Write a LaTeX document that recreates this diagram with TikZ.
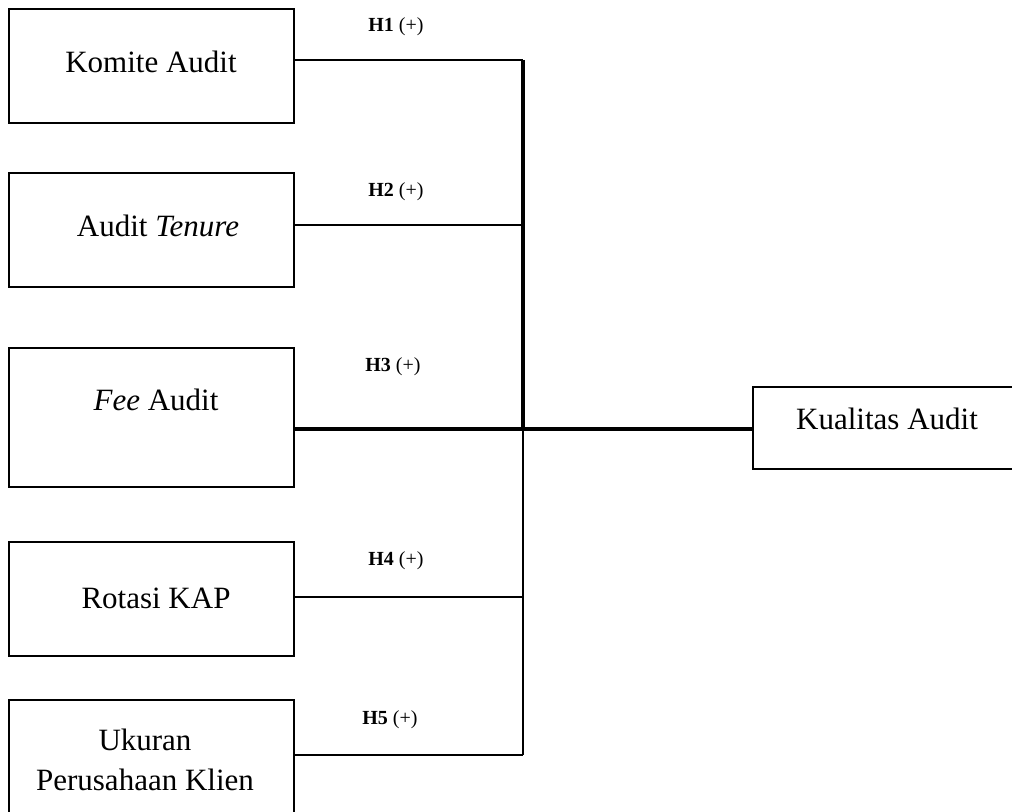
\documentclass[tikz,border=0pt]{standalone}
\usepackage{fontspec}
\setmainfont{Liberation Serif}
\usetikzlibrary{positioning}
\tikzset{
  varbox/.style={draw, line width=1.5pt, minimum width=213.75pt, minimum height=85.5pt, inner sep=0pt},
  vartext/.style={font=\fontsize{23.25}{30}\selectfont, align=center, inner sep=0pt},
  hyplabel/.style={font=\fontsize{15}{18}\selectfont, inner sep=0pt},
  thinline/.style={line width=1.5pt},
  thickline/.style={line width=3pt}
}
\begin{document}
\begin{tikzpicture}[x=0.75pt,y=-0.75pt]
  \useasboundingbox (0,0) rectangle (1012,812);
  \clip (0,0) rectangle (1012,812);
  % independent variables
  \node [varbox] (komite) at (151.5,66) {};
  \node [varbox] (tenure) at (151.5,230) {};
  \node [varbox, minimum height=104.25pt] (fee) at (151.5,417.5) {};
  \node [varbox] (rotasi) at (151.5,599) {};
  \node [varbox] (ukuran) at (151.5,757) {};
  \node [vartext] (komitetxt) at (151,62) {Komite Audit};
  \node [vartext] (tenuretxt) at (158,226) {Audit \textit{Tenure}};
  \node [vartext] (feetxt) at (156,400) {\textit{Fee} Audit};
  \node [vartext] (rotasitxt) at (156,598) {Rotasi KAP};
  \node [vartext] (ukurantxt) at (145,760) {Ukuran\\Perusahaan Klien};
  % dependent variable
  \node [varbox, minimum width=200.25pt, minimum height=61.5pt] (kualitas) at (886.5,428) {};
  \node [vartext] (kualitastxt) at (887,419) {Kualitas Audit};
  % junctions
  \coordinate (j1) at (523,60);
  \coordinate (j2) at (523,225);
  \coordinate (j3) at (523,429);
  \coordinate (j4) at (523,597);
  \coordinate (j5) at (523,755);
  \draw [thinline] (j1 -| komite.east) -- (j1);
  \draw [thinline] (j2 -| tenure.east) -- (j2);
  \draw [thinline] (j4 -| rotasi.east) -- (j4);
  \draw [thinline] (j5 -| ukuran.east) -- (j5);
  \draw [thickline] (j3 -| fee.east) -- (j3 -| kualitas.west);
  \draw [thickline] (j1) -- (j3);
  \draw [thinline] (j3) -- (j5);
  % hypotheses
  \node [hyplabel] (h1) at (396,27) {\textbf{H1} (+)};
  \node [hyplabel] (h2) at (396,192) {\textbf{H2} (+)};
  \node [hyplabel] (h3) at (393,367) {\textbf{H3} (+)};
  \node [hyplabel] (h4) at (396,561) {\textbf{H4} (+)};
  \node [hyplabel] (h5) at (390,720) {\textbf{H5} (+)};
\end{tikzpicture}
\end{document}
